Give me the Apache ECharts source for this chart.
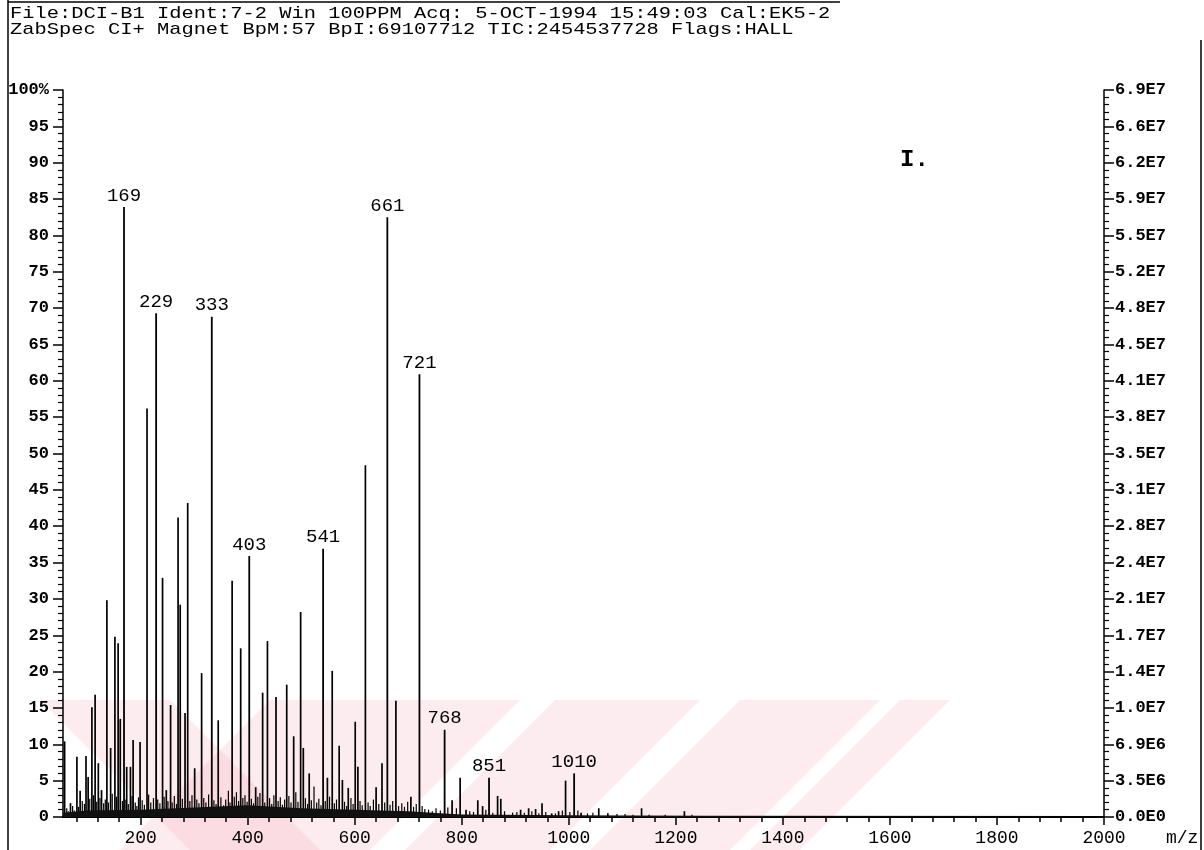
<!DOCTYPE html>
<html>
<head>
<meta charset="utf-8">
<title>ZabSpec CI+ spectrum</title>
<script src="https://cdn.jsdelivr.net/npm/echarts@6/dist/echarts.min.js"></script>
<style>
    html, body { margin: 0; padding: 0; background: #fff; }
    #chart { width: 1204px; height: 850px; }
</style>
</head>
<body>
<div id="chart"></div>
<script>
// header lines printed by the instrument
var headerLines = [
    "File:DCI-B1 Ident:7-2 Win 100PPM Acq: 5-OCT-1994 15:49:03 Cal:EK5-2",
    "ZabSpec CI+ Magnet BpM:57 BpI:69107712 TIC:2454537728 Flags:HALL"
];
var sampleMark = "I.";
var xName = "m/z";

// tick labels
var xTicks = [200, 400, 600, 800, 1000, 1200, 1400, 1600, 1800, 2000];
var leftLabels = ["0", "5", "10", "15", "20", "25", "30", "35", "40", "45", "50",
    "55", "60", "65", "70", "75", "80", "85", "90", "95", "100%"];
var rightLabels = ["0.0E0", "3.5E6", "6.9E6", "1.0E7", "1.4E7", "1.7E7", "2.1E7",
    "2.4E7", "2.8E7", "3.1E7", "3.5E7", "3.8E7", "4.1E7", "4.5E7", "4.8E7",
    "5.2E7", "5.5E7", "5.9E7", "6.2E7", "6.6E7", "6.9E7"];

// labelled peaks [m/z, %]
var labelledPeaks = [
    [169, 83.9], [229, 69.3], [333, 68.8], [403, 35.9], [541, 36.9],
    [661, 82.5], [721, 60.9], [768, 12.0], [851, 5.4], [1010, 6.0]
];

// other peaks [m/z, %]
var peaks = [
    [58, 10.4], [69, 1.9], [81, 8.3], [87, 3.6], [98, 8.4], [102, 5.5], [109, 15.1],
    [115, 16.8], [121, 7.4], [127, 3.7], [137, 29.8], [144, 9.5], [152, 24.8],
    [158, 23.9], [162, 13.5], [174, 6.9], [181, 6.9], [186, 10.6], [199, 10.3], [212, 56.2],
    [241, 32.9], [248, 3.7], [256, 15.4], [270, 41.2], [274, 29.2], [283, 14.3],
    [288, 43.2], [301, 6.7], [314, 19.8], [345, 13.3], [371, 32.5], [387, 23.2],
    [415, 4.1], [428, 17.1], [437, 24.2], [453, 16.5], [473, 18.2], [486, 11.1],
    [499, 28.2], [504, 9.5], [515, 6.0], [549, 5.4], [558, 20.1], [571, 9.8],
    [577, 5.1], [588, 4.0], [601, 13.1], [606, 6.9], [620, 48.4], [640, 4.1],
    [651, 7.4], [677, 16.0], [705, 2.8], [782, 2.3], [797, 5.4], [808, 1.0],
    [830, 2.3], [839, 1.5], [867, 2.9], [873, 2.5], [910, 1.0], [925, 1.2],
    [938, 1.1], [950, 1.9], [968, 0.5], [981, 0.8], [994, 5.0], [1023, 0.6],
    [1056, 1.2], [1073, 0.5], [1136, 1.2], [1216, 0.8]
];

// small clutter along the baseline [m/z, %]
var noise = [
    [62, 1.2], [65, 0.8], [73, 1.5], [76, 0.9], [84, 1.4], [91, 2.2], [95, 1.8],
    [105, 2.5], [112, 3.0], [118, 2.1], [124, 2.6], [131, 1.9], [134, 2.4], [140, 2.0],
    [147, 3.2], [155, 2.8], [166, 2.2], [171, 2.4], [177, 1.8], [184, 2.9],
    [190, 2.0], [193, 1.5], [196, 2.7], [203, 2.3], [207, 1.7], [215, 3.1], [219, 2.0],
    [224, 2.6], [232, 2.4], [236, 1.9], [244, 2.8], [251, 2.2], [259, 2.0], [263, 2.9],
    [267, 1.8], [278, 2.5], [292, 2.2], [296, 3.0], [305, 2.4], [309, 1.9], [318, 2.6],
    [322, 2.0], [327, 3.1], [337, 2.3], [341, 1.8], [350, 2.7], [355, 1.6], [359, 2.4],
    [364, 3.6], [367, 2.0], [375, 2.8], [379, 3.4], [383, 2.2], [391, 2.6], [395, 3.0],
    [399, 2.1], [407, 2.5], [411, 1.9], [419, 2.8], [423, 3.3], [432, 2.0], [441, 2.6],
    [445, 1.8], [449, 3.0], [457, 2.2], [461, 2.7], [465, 1.7], [469, 2.4], [477, 2.9],
    [481, 2.0], [490, 3.4], [494, 2.1], [508, 2.6], [512, 1.8], [519, 2.3], [524, 4.2],
    [529, 2.0], [533, 2.5], [537, 1.6], [545, 2.2], [553, 2.8], [562, 1.9], [566, 2.4],
    [581, 2.1], [585, 1.5], [593, 2.6], [597, 1.8], [610, 2.2], [614, 1.6], [625, 2.0],
    [629, 1.5], [635, 2.4], [645, 1.8], [656, 2.0], [666, 1.7], [671, 2.2], [682, 1.5],
    [688, 1.9], [693, 1.4], [699, 2.1], [710, 1.4], [715, 1.8], [726, 1.5], [731, 1.1],
    [738, 1.0], [745, 0.8], [752, 1.2], [760, 0.9], [774, 1.3], [790, 1.2], [815, 0.8],
    [822, 0.7], [845, 1.0], [858, 0.6], [880, 0.8], [895, 0.6], [903, 0.7], [917, 0.6],
    [931, 0.8], [944, 0.5], [957, 0.7], [975, 0.5], [988, 0.9], [1002, 0.7], [1017, 0.9],
    [1035, 0.5], [1045, 0.6], [1090, 0.4], [1105, 0.4], [1120, 0.3], [1150, 0.3],
    [1180, 0.3], [1230, 0.3]
];

// thick dark band along zero
var baseline = [
    [55, 0.6], [100, 0.9], [200, 1.0], [300, 1.3], [400, 1.6], [450, 1.4], [500, 1.2],
    [600, 1.0], [700, 0.8], [760, 0.5], [800, 0.35], [1000, 0.25], [1250, 0.18], [2000, 0.15]
];

// minor ticks every 40 on m/z
var xMinorTicks = [];
for (var v = 80; v < 2000; v += 40) {
    if (v % 200 != 0) xMinorTicks.push(v);
}

var MONO = '"Liberation Mono", "DejaVu Sans Mono", monospace';
var GRID = { left: 63, right: 100, top: 90, bottom: 33 };

function renderStick(params, api) {
    var top = api.coord([api.value(0), api.value(1)]);
    var base = api.coord([api.value(0), 0]);
    return {
        type: 'line',
        shape: { x1: top[0], y1: base[1], x2: top[0], y2: top[1] },
        style: { stroke: '#000', lineWidth: params.seriesName == 'noise' ? 1.2 : 1.7 }
    };
}

function renderLabelled(params, api) {
    var top = api.coord([api.value(0), api.value(1)]);
    var base = api.coord([api.value(0), 0]);
    return {
        type: 'group',
        children: [{
            type: 'line',
            shape: { x1: top[0], y1: base[1], x2: top[0], y2: top[1] },
            style: { stroke: '#000', lineWidth: 1.8 }
        }, {
            type: 'text',
            x: top[0],
            y: top[1] - 2,
            style: {
                text: String(api.value(0)),
                align: 'center',
                verticalAlign: 'bottom',
                fontFamily: MONO,
                fontSize: 19,
                fill: '#000'
            }
        }]
    };
}

function yAxisOf(pos, labels, margin) {
    return {
        type: 'value',
        gridIndex: 0,
        position: pos,
        min: 0,
        max: 100,
        interval: 5,
        axisLine: { show: true, lineStyle: { color: '#000', width: 1.5 } },
        axisTick: { show: true, length: 10, lineStyle: { color: '#000', width: 1.5 } },
        minorTick: { show: true, splitNumber: 5, length: 5, lineStyle: { color: '#000', width: 1.2 } },
        splitLine: { show: false },
        axisLabel: {
            margin: margin,
            color: '#000',
            fontFamily: MONO,
            fontSize: 17,
            fontWeight: 'bold',
            padding: [0, 0, 8, 0],
            formatter: function (val) {
                return labels[Math.round(val / 5)];
            }
        }
    };
}

var chart = echarts.init(document.getElementById('chart'), null, { renderer: 'canvas' });

// pink scan watermark, header text and frame
var watermark = [
    [[40, 700], [170, 700], [320, 850], [190, 850]],
    [[270, 700], [520, 700], [370, 850], [120, 850]],
    [[555, 700], [700, 700], [550, 850], [405, 850]],
    [[740, 700], [880, 700], [730, 850], [590, 850]],
    [[900, 700], [950, 700], [800, 850], [750, 850]]
];
var graphics = [];
for (var i = 0; i < watermark.length; i++) {
    graphics.push({
        type: 'polygon',
        z: -10,
        silent: true,
        shape: { points: watermark[i] },
        style: { fill: 'rgba(245,150,165,0.18)' }
    });
}
graphics.push(
    { type: 'line', shape: { x1: 8, y1: 0, x2: 8, y2: 850 }, style: { stroke: '#000', lineWidth: 1.5 } },
    { type: 'line', shape: { x1: 1201, y1: 40, x2: 1201, y2: 850 }, style: { stroke: '#000', lineWidth: 1.5 } },
    { type: 'line', shape: { x1: 8, y1: 2, x2: 840, y2: 2 }, style: { stroke: '#000', lineWidth: 1.5 } },
    {
        type: 'text', x: 10, y: 13, scaleX: 1.2,
        style: { text: headerLines[0], fontFamily: MONO, fontSize: 17, fill: '#000', verticalAlign: 'middle' }
    },
    {
        type: 'text', x: 10, y: 29, scaleX: 1.2,
        style: { text: headerLines[1], fontFamily: MONO, fontSize: 17, fill: '#000', verticalAlign: 'middle' }
    },
    {
        type: 'text', x: 900, y: 160,
        style: { text: sampleMark, fontFamily: MONO, fontSize: 24, fontWeight: 'bold', fill: '#000', verticalAlign: 'middle' }
    },
    {
        type: 'text', x: 1166, y: 838,
        style: { text: xName, fontFamily: MONO, fontSize: 18, fill: '#000', verticalAlign: 'middle' }
    }
);

var option = {
    backgroundColor: '#fff',
    animation: false,
    grid: [
        { left: GRID.left, right: GRID.right, top: GRID.top, bottom: GRID.bottom },
        { left: GRID.left, right: GRID.right, top: GRID.top, bottom: GRID.bottom }
    ],
    xAxis: [{
        type: 'value',
        gridIndex: 0,
        position: 'bottom',
        min: 55,
        max: 2000,
        axisLine: { show: true, lineStyle: { color: '#000', width: 2 } },
        axisTick: { show: true, length: 8, customValues: xTicks, lineStyle: { color: '#000', width: 1.5 } },
        axisLabel: {
            customValues: xTicks,
            margin: 12,
            color: '#000',
            fontFamily: MONO,
            fontSize: 18,
            formatter: function (val) {
                return String(val);
            }
        },
        splitLine: { show: false }
    }, {
        // second axis only for the minor ticks
        type: 'value',
        gridIndex: 1,
        position: 'bottom',
        min: 55,
        max: 2000,
        axisLine: { show: true, lineStyle: { color: '#000', width: 2 } },
        axisTick: { show: true, length: 5, customValues: xMinorTicks, lineStyle: { color: '#000', width: 1.5 } },
        axisLabel: { show: false },
        splitLine: { show: false }
    }],
    yAxis: [
        yAxisOf('left', leftLabels, 14),
        yAxisOf('right', rightLabels, 11),
        { type: 'value', gridIndex: 1, min: 0, max: 100, show: false }
    ],
    graphic: graphics,
    series: [{
        name: 'baseline',
        type: 'line',
        xAxisIndex: 0,
        yAxisIndex: 0,
        data: baseline,
        symbol: 'none',
        smooth: false,
        lineStyle: { width: 0 },
        areaStyle: { color: '#111', opacity: 1 },
        silent: true
    }, {
        name: 'noise',
        type: 'custom',
        xAxisIndex: 0,
        yAxisIndex: 0,
        renderItem: renderStick,
        data: noise,
        silent: true
    }, {
        name: 'peaks',
        type: 'custom',
        xAxisIndex: 0,
        yAxisIndex: 0,
        renderItem: renderStick,
        data: peaks,
        silent: true
    }, {
        name: 'labelled',
        type: 'custom',
        xAxisIndex: 0,
        yAxisIndex: 0,
        renderItem: renderLabelled,
        data: labelledPeaks,
        silent: true
    }]
};

chart.setOption(option);
</script>
</body>
</html>
